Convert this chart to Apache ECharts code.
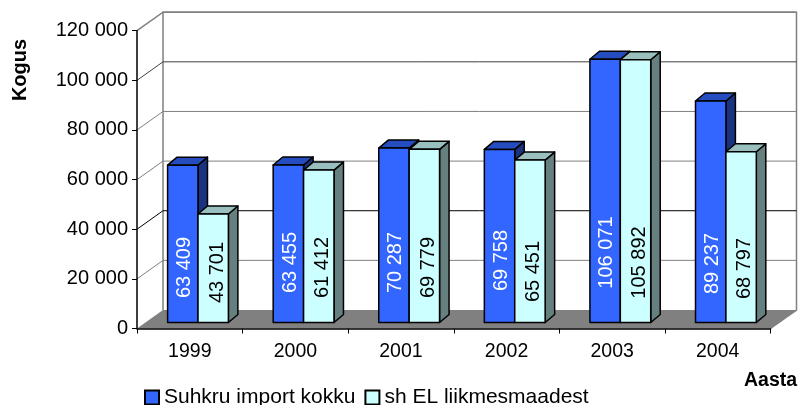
<!DOCTYPE html>
<html>
<head>
<meta charset="utf-8">
<style>html,body{margin:0;padding:0;background:#fff}#c{width:798px;height:405px}</style>
<script src="https://cdn.jsdelivr.net/npm/echarts@6/dist/echarts.min.js"></script>
</head>
<body>
<div id="c"></div>
<script>
const categories = ['1999','2000','2001','2002','2003','2004'];
const totalImport = [63409,63455,70287,69758,106071,89237];
const euImport = [43701,61412,69779,65451,105892,68797];
const yTicks = [0,20000,40000,60000,80000,100000,120000];
const seriesNames = ['Suhkru import kokku','sh EL liikmesmaadest'];

// Oblique projection of the 3D chart, in pixels
const WALL_DX = 26, WALL_DY = -18.5;
const BAR_DX = 8.2, BAR_DY = -6, BAR_W = 30.4, DEPTH_DX = 9.5, DEPTH_DY = -8;
const FONT = '"Liberation Sans", Arial, sans-serif';
const fmt = v => String(v).replace(/\B(?=(\d{3})+$)/g, ' ');
const labelLift = [[55,60,60,62,70,59],[50,55,55,51,60,54]];
const labelInset = [17,19];
const skins = [
  {front:'#3366FF', top:'#264DBF', side:'#1A3380', text:'#FFFFFF'},
  {front:'#CCFFFF', top:'#99BFBF', side:'#668080', text:'#000000'}
];
const gridTone = {0:'#808080',20000:'#808080',40000:'#000000',60000:'#808080',80000:'#808080',100000:'#404040',120000:'#808080'};

function wallItem(params, api) {
  const v = api.value(0);
  const cs = params.coordSys;
  const y = api.coord([0, v])[1];
  const L = cs.x, R = cs.x + cs.width;
  const c = gridTone[v];
  const children = [];
  if (v === 0) {
    children.push({type:'polygon', shape:{points:[[L,y],[L+WALL_DX,y+WALL_DY],[R+WALL_DX,y+WALL_DY],[R,y]]}, style:{fill:'#808080', stroke:null}});
    const top = api.coord([0, yTicks[yTicks.length-1]])[1] + WALL_DY;
    const walls = {stroke:'#808080', lineWidth:1.5, fill:null};
    children.push({type:'polyline', shape:{points:[[L+WALL_DX,y+WALL_DY],[L+WALL_DX,top],[R+WALL_DX,top],[R+WALL_DX,y+WALL_DY],[R,y]]}, style:walls});
  } else {
    children.push({type:'polyline', shape:{points:[[L,y],[L+WALL_DX,y+WALL_DY],[R+WALL_DX,y+WALL_DY]]},
      style:{stroke:c, lineWidth:v === 120000 ? 1.5 : 1, fill:null}});
  }
  return {type:'group', children};
}

function barItem(k) {
  return function (params, api) {
    const i = api.value(0), v = api.value(1);
    const p = api.coord([i, v]), p0 = api.coord([i, 0]);
    const x0 = p[0] + BAR_DX - BAR_W + k * BAR_W, x1 = x0 + BAR_W;
    const yT = p[1] + BAR_DY, yB = p0[1] + BAR_DY;
    const s = skins[k];
    const edge = {stroke:'#000', lineWidth:1.5, lineJoin:'round'};
    return {type:'group', children:[
      {type:'polygon', shape:{points:[[x1,yT],[x1+DEPTH_DX,yT+DEPTH_DY],[x1+DEPTH_DX,yB+DEPTH_DY],[x1,yB]]}, style:{fill:s.side, ...edge}},
      {type:'polygon', shape:{points:[[x0,yT],[x0+DEPTH_DX,yT+DEPTH_DY],[x1+DEPTH_DX,yT+DEPTH_DY],[x1,yT]]}, style:{fill:s.top, ...edge}},
      {type:'rect', shape:{x:x0, y:yT, width:BAR_W, height:yB-yT}, style:{fill:s.front, ...edge}},
      {type:'text', x:x0+labelInset[k], y:yB-labelLift[k][i], rotation:Math.PI/2,
        style:{text:fmt(v), fill:s.text, font:'20px '+FONT, align:'center', verticalAlign:'middle'}}
    ]};
  };
}

const chart = echarts.init(document.getElementById('c'), null, {renderer:'canvas'});
chart.setOption({
  animation:false,
  backgroundColor:'#fff',
  textStyle:{fontFamily:FONT},
  grid:{left:137, top:30.7, width:633.5, height:297.8, containLabel:false},
  legend:{
    data:seriesNames, left:144, top:387, padding:0, itemWidth:14, itemHeight:14, itemGap:9,
    icon:'rect', selectedMode:false,
    textStyle:{fontSize:21, color:'#000', fontFamily:FONT, padding:[0,0,0,0]}
  },
  xAxis:{
    type:'category', data:categories, boundaryGap:true, z:6,
    axisLine:{lineStyle:{color:'#000', width:1.5}},
    axisTick:{show:true, length:5, lineStyle:{color:'#000', width:1}},
    axisLabel:{color:'#000', fontSize:19.5, margin:13},
    splitLine:{show:false}
  },
  yAxis:{
    type:'value', min:0, max:120000, interval:20000, z:6,
    axisLine:{show:true, lineStyle:{color:'#000', width:1.5}},
    axisTick:{show:true, length:5, lineStyle:{color:'#000', width:1}},
    axisLabel:{color:'#000', fontSize:20, margin:9, formatter:fmt, padding:[2,0,0,0]},
    splitLine:{show:false}
  },
  graphic:[
    {type:'text', x:20.7, y:70, rotation:Math.PI/2, z:10,
      style:{text:'Kogus', font:'bold 20px '+FONT, fill:'#000', align:'center', verticalAlign:'middle'}},
    {type:'text', left:744, top:371, z:10,
      style:{text:'Aasta', font:'bold 19.5px '+FONT, fill:'#000'}}
  ],
  series:[
    {type:'custom', name:'walls', z:1, silent:true, clip:false, renderItem:wallItem,
      encode:{y:0}, data:yTicks.map(v=>[v])},
    {type:'custom', name:seriesNames[0], z:3, clip:false, renderItem:barItem(0),
      encode:{x:0,y:1}, itemStyle:{color:skins[0].front, borderColor:'#000', borderWidth:1.5},
      data:totalImport.map((v,i)=>[i,v])},
    {type:'custom', name:seriesNames[1], z:4, clip:false, renderItem:barItem(1),
      encode:{x:0,y:1}, itemStyle:{color:skins[1].front, borderColor:'#000', borderWidth:1.5},
      data:euImport.map((v,i)=>[i,v])}
  ]
});
</script>
</body>
</html>
